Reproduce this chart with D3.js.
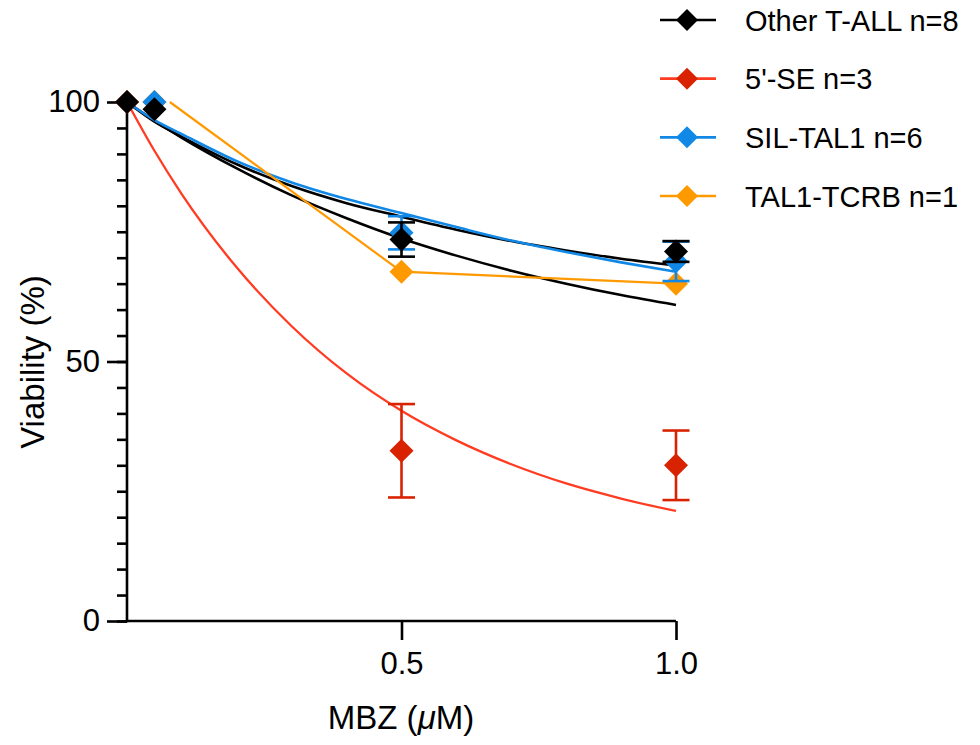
<!DOCTYPE html>
<html>
<head>
<meta charset="utf-8">
<script src="https://cdn.jsdelivr.net/npm/d3@7"></script>
<style>
  body { margin: 0; background: #fff; }
  svg { display: block; font-family: "Liberation Sans", Arial, Helvetica, sans-serif; }
</style>
</head>
<body>
<svg id="chart" width="980" height="745"></svg>
<script>
// ---------------- data ----------------
const seriesNames = ["Other T-ALL n=8", "5'-SE n=3", "SIL-TAL1 n=6", "TAL1-TCRB n=1"];

// measured means (x in µM, viability %) and SEM
const otherX   = [0, 0.05, 0.5, 1.0];
const otherY   = [100, 98.6, 73.5, 71.2];
const otherErr = [0, 0, 3.3, 2.0];

const seX   = [0, 0.5, 1.0];
const seY   = [100, 32.8, 30.0];
const seErr = [0, 9.0, 6.7];

const silX   = [0.05, 0.5, 1.0];
const silY   = [100, 74.8, 69.3];
const silErr = [0, 3.2, 3.8];

const tcrbX   = [0.05, 0.5, 1.0];
const tcrbY   = [100, 67.3, 65.0];
const tcrbErr = [0, 0, 0];
// point-to-point line for TAL1-TCRB as drawn (starts right of the hidden first marker)
const tcrbLineX = [0.078, 0.5, 1.0];
const tcrbLineY = [100, 67.3, 65.0];

// fitted curves
const fitX        = [0, 0.05, 0.1, 0.2, 0.3, 0.4, 0.5, 0.6, 0.7, 0.8, 0.9, 1.0];
const fitOtherA   = [100, 96.4, 93.1, 87.2, 82.0, 77.6, 73.7, 70.4, 67.5, 65.0, 62.8, 60.9];
const fitOtherB   = [100, 96.2, 93.3, 88.0, 83.8, 80.5, 77.9, 75.4, 73.2, 71.4, 69.8, 68.5];
const fitSE       = [100, 90.6, 82.2, 68.1, 56.8, 47.7, 40.5, 34.8, 30.2, 26.5, 23.6, 21.2];
const fitSIL      = [100, 96.5, 93.8, 88.6, 84.5, 81.3, 78.6, 75.9, 73.3, 71.1, 69.1, 67.3];

const xTicks = [0.5, 1.0];
const xTickLabels = ["0.5", "1.0"];
const yMajorTicks = [0, 50, 100];
const yMinorTicks = d3.range(0, 101, 5);

const colors = {
  other: "#000000",
  seMarker: "#d92300", seLine: "#ff3b22",
  sil: "#1188e6",
  tcrb: "#ff9900"
};

// ---------------- layout ----------------
const svg = d3.select("#chart");
const x = d3.scaleLinear().domain([0, 1]).range([127, 676]);
const y = d3.scaleLinear().domain([0, 100]).range([621, 102]);

const zip = (xs, ys) => xs.map((v, i) => [v, ys[i]]);
const line = d3.line().x(d => x(d[0])).y(d => y(d[1]));
const smooth = d3.line().x(d => x(d[0])).y(d => y(d[1])).curve(d3.curveMonotoneX);

// ---------------- axes ----------------
const yAxisMinor = d3.axisLeft(y).tickValues(yMinorTicks).tickSize(10).tickFormat("");
const yAxisMajor = d3.axisLeft(y).tickValues(yMajorTicks).tickSize(20).tickPadding(7).tickFormat(d3.format("d"));
const xAxis = d3.axisBottom(x).tickValues(xTicks).tickSize(19).tickPadding(12)
  .tickFormat((d, i) => xTickLabels[i]);

function styleAxis(g) {
  g.select(".domain").remove();
  g.selectAll(".tick line").attr("stroke", "#000").attr("stroke-width", 2.6);
  g.selectAll(".tick text").attr("fill", "#000").attr("font-size", 31)
    .attr("font-family", "'Liberation Sans', Arial, Helvetica, sans-serif");
}

svg.append("g").attr("transform", "translate(127,0)").call(yAxisMinor).call(styleAxis);
svg.append("g").attr("transform", "translate(127,0)").call(yAxisMajor).call(styleAxis);
svg.append("g").attr("transform", "translate(0,621)").call(xAxis).call(styleAxis);

// axis lines
svg.append("line").attr("x1", 127).attr("x2", 127).attr("y1", y(100)).attr("y2", y(0) + 1.3)
  .attr("stroke", "#000").attr("stroke-width", 2.6);
svg.append("line").attr("x1", 127 - 1.3).attr("x2", x(1)).attr("y1", y(0)).attr("y2", y(0))
  .attr("stroke", "#000").attr("stroke-width", 2.6);

// axis titles
svg.append("text").attr("transform", "translate(44,362) rotate(-90)")
  .attr("text-anchor", "middle").attr("font-size", 33).attr("fill", "#000")
  .text("Viability (%)");

const xt = svg.append("text").attr("x", 401).attr("y", 729)
  .attr("text-anchor", "middle").attr("font-size", 33).attr("fill", "#000");
xt.append("tspan").text("MBZ (");
xt.append("tspan").attr("font-style", "italic").text("\u03BC");
xt.append("tspan").text("M)");

// ---------------- curves ----------------
const plot = svg.append("g");
plot.append("path").attr("d", smooth(zip(fitX, fitOtherA)))
  .attr("fill", "none").attr("stroke", colors.other).attr("stroke-width", 2.6);
plot.append("path").attr("d", smooth(zip(fitX, fitOtherB)))
  .attr("fill", "none").attr("stroke", colors.other).attr("stroke-width", 2.6);
plot.append("path").attr("d", smooth(zip(fitX, fitSIL)))
  .attr("fill", "none").attr("stroke", colors.sil).attr("stroke-width", 2.6);
plot.append("path").attr("d", line(zip(tcrbLineX, tcrbLineY)))
  .attr("fill", "none").attr("stroke", colors.tcrb).attr("stroke-width", 2.2);
plot.append("path").attr("d", smooth(zip(fitX, fitSE)))
  .attr("fill", "none").attr("stroke", colors.seLine).attr("stroke-width", 2.3);

// ---------------- markers + error bars ----------------
const diamond = d3.symbol(d3.symbolSquare).size(289);
function drawSeries(xs, ys, errs, col) {
  const g = plot.append("g");
  xs.forEach((xv, i) => {
    const e = errs[i];
    if (e > 0) {
      const cx = x(xv), yt = y(ys[i] + e), yb = y(ys[i] - e);
      g.append("line").attr("x1", cx).attr("x2", cx).attr("y1", yt).attr("y2", yb)
        .attr("stroke", col).attr("stroke-width", 2.6);
      [yt, yb].forEach(yy => g.append("line").attr("x1", cx - 13.5).attr("x2", cx + 13.5)
        .attr("y1", yy).attr("y2", yy).attr("stroke", col).attr("stroke-width", 2.6));
    }
  });
  xs.forEach((xv, i) => {
    g.append("path").attr("d", diamond)
      .attr("transform", `translate(${x(xv)},${y(ys[i])}) rotate(45)`)
      .attr("fill", col);
  });
}
drawSeries(tcrbX, tcrbY, tcrbErr, colors.tcrb);
drawSeries(silX, silY, silErr, colors.sil);
drawSeries(seX, seY, seErr, colors.seMarker);
drawSeries(otherX, otherY, otherErr, colors.other);

// ---------------- legend ----------------
const legendRows = [
  { name: seriesNames[0], line: colors.other, mark: colors.other },
  { name: seriesNames[1], line: colors.seLine, mark: colors.seMarker },
  { name: seriesNames[2], line: colors.sil, mark: colors.sil },
  { name: seriesNames[3], line: colors.tcrb, mark: colors.tcrb }
];
const legendY = d3.scalePoint().domain(d3.range(legendRows.length)).range([20, 196]);
const legDiamond = d3.symbol(d3.symbolSquare).size(243);
const leg = svg.append("g");
legendRows.forEach((r, i) => {
  const yy = legendY(i);
  leg.append("line").attr("x1", 660).attr("x2", 716).attr("y1", yy).attr("y2", yy)
    .attr("stroke", r.line).attr("stroke-width", 2.6);
  leg.append("path").attr("d", legDiamond)
    .attr("transform", `translate(687,${yy}) rotate(45)`).attr("fill", r.mark);
  leg.append("text").attr("x", 745).attr("y", yy + 10.5)
    .attr("font-size", 29).attr("fill", "#000").text(r.name);
});
</script>
</body>
</html>
